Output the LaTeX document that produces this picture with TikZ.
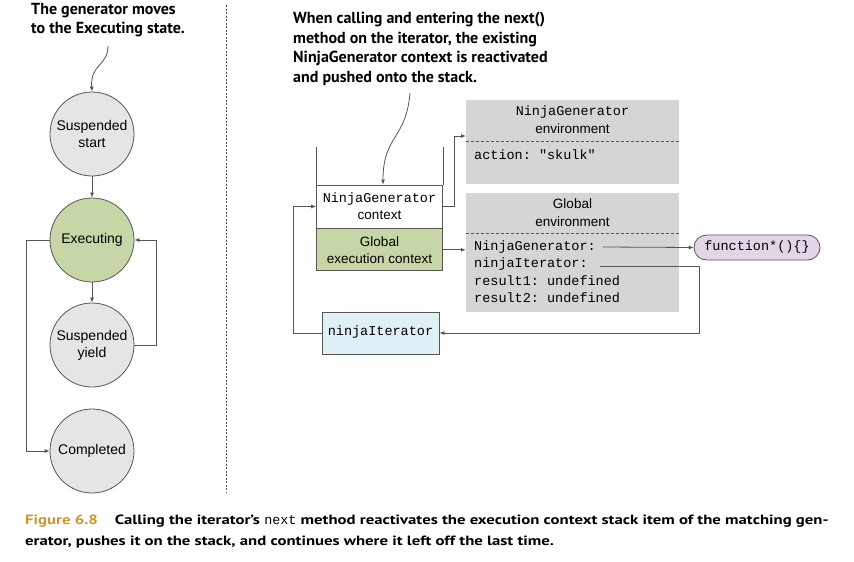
\documentclass[tikz,border=0pt]{standalone}
\usepackage{fontspec}
\setmainfont{Liberation Sans}
\setmonofont{Liberation Mono}
\newfontfamily\annfont{PT Sans}
\newfontfamily\capfont[FakeStretch=1.25]{PT Sans}
\usetikzlibrary{arrows.meta}
\definecolor{linec}{HTML}{555555}
\definecolor{cgray}{HTML}{E3E6E3}
\definecolor{cgreen}{HTML}{C6D6A6}
\definecolor{cbox}{HTML}{D5D5D5}
\definecolor{cblue}{HTML}{DFF0F6}
\definecolor{cpurple}{HTML}{E2D6E6}
\definecolor{cgold}{HTML}{C9972A}
\begin{document}
\begin{tikzpicture}[x=1pt,y=-1pt,
  state/.style={circle, draw=linec, line width=0.8pt, minimum size=84pt, inner sep=0pt, font=\fontsize{14}{17}\selectfont, align=center},
  arr/.style={draw=linec, line width=0.8pt, -{Latex[length=5pt,width=4pt]}},
  plain/.style={draw=linec, line width=0.8pt},
  sans/.style={font=\fontsize{13.5}{17}\selectfont},
  mono/.style={font=\ttfamily\fontsize{13.5}{17}\selectfont},
  ann/.style={font=\annfont\bfseries\fontsize{16}{19.5}\selectfont, align=left, inner sep=0pt},
  stackbox/.style={draw=linec, line width=0.8pt, minimum width=126pt, inner sep=0pt, align=center, font=\fontsize{13.5}{17}\selectfont},
  envbox/.style={fill=cbox, minimum width=213pt, inner sep=0pt},
  envline/.style={mono, anchor=west, inner sep=0pt},
  capt/.style={font=\capfont\bfseries\fontsize{13.4}{16}\selectfont, anchor=west, inner sep=0pt}
]
\useasboundingbox (0,0) rectangle (854,562);

% ---------- left: state diagram ----------
\node[ann, anchor=north west] (ann1) at (31,3) {The generator moves\\to the Executing state.};
\node[state, fill=cgray] (ss) at (92,134) {Suspended\\start};
\node[state, fill=cgreen] (ex) at (92,240) {Executing};
\node[state, fill=cgray] (sy) at (92,345) {Suspended\\yield};
\node[state, fill=cgray] (co) at (92,451) {Completed};
\coordinate (a1) at (108,46);
\draw[arr] (a1) .. controls (108,66) and (90,64) .. (ss.north);
\draw[arr] (ss) -- (ex);
\draw[arr] (ex) -- (sy);
\draw[arr] (ex.west) -- ++(-23,0) |- (co.west);
\draw[arr] (sy.east) -- ++(22,0) |- (ex.east);

% divider
\coordinate (d1) at (226,5);
\coordinate (d2) at (226,493);
\draw[linec, line width=0.8pt, dash pattern=on 2pt off 1.5pt] (d1) -- (d2);

% ---------- right ----------
\node[ann, anchor=north west] (ann2) at (293,12) {When calling and entering the next()\\method on the iterator, the existing\\NinjaGenerator context is reactivated\\and pushed onto the stack.};

\node[stackbox, fill=white, minimum height=43pt] (ngc) at (379.5,206.5) {\texttt{NinjaGenerator}\\context};
\node[stackbox, fill=cgreen, minimum height=42pt, anchor=north] (gec) at (ngc.south) {Global\\execution context};
\draw[plain] (ngc.north west) -- ++(0,-38);
\draw[plain] (ngc.north east) -- ++(0,-38);
\coordinate (a2) at (410,93);
\draw[arr] (a2) .. controls (406,140) and (383,135) .. (ngc.north -| 383,0);

\node[draw=linec, line width=0.8pt, fill=cblue, minimum width=117pt, minimum height=42pt, inner sep=0pt, mono] (nib) at (380.5,333) {\raisebox{4pt}{ninjaIterator}};

% NinjaGenerator environment
\node[envbox, minimum height=84pt] (ngenv) at (572.5,142) {};
\node[mono, inner sep=0pt] (ngt1) at (572.5,112) {NinjaGenerator};
\node[sans, inner sep=0pt] (ngt2) at (572.5,129) {environment};
\draw[linec, line width=0.8pt, dash pattern=on 3pt off 2pt] (ngenv.west |- 0,141) -- (ngenv.east |- 0,141);
\node[envline] (act) at (474,155) {action: "skulk"};

% Global environment
\node[envbox, minimum height=119pt] (genv) at (572.5,252.5) {};
\node[sans, inner sep=0pt] (gt1) at (572.5,204) {Global};
\node[sans, inner sep=0pt] (gt2) at (572.5,222) {environment};
\draw[linec, line width=0.8pt, dash pattern=on 3pt off 2pt] (genv.west |- 0,233) -- (genv.east |- 0,233);
\node[envline] (ng1) at (474,247) {NinjaGenerator:};
\node[envline] (ni1) at (474,264) {ninjaIterator:};
\node[envline] (r1) at (474,281) {result1: undefined};
\node[envline] (r2) at (474,298) {result2: undefined};

\node[draw=linec, line width=0.8pt, fill=cpurple, rounded corners=12.5pt, minimum width=126pt, minimum height=25pt, inner sep=0pt, mono] (fn) at (757,247.5) {function*()\{\}};

% connectors
\coordinate (ngin) at (466,136);
\draw[arr] (ngc.east) -- ++(11,0) |- (ngin);
\draw[arr] (gec.east) -- (gec.east -| genv.west);
\draw[arr] ([xshift=7pt]ng1.east) -- (fn.west);
\coordinate (rt) at (699,0);
\coordinate (nis) at ([xshift=12pt,yshift=-2pt]ni1.east);
\draw[arr] (nis) -- (nis -| rt) |- (nib.east);
\draw[arr] (nib.west) -- ++(-28,0) |- (ngc.west);

% caption
\node[capt] (cap1) at (25,521) {\textcolor{cgold}{Figure 6.8}\hspace{17pt}Calling the iterator’s {\ttfamily\mdseries next} method reactivates the execution context stack item of the matching gen-};
\node[capt] (cap2) at (25,542) {erator, pushes it on the stack, and continues where it left off the last time.};
\end{tikzpicture}
\end{document}
